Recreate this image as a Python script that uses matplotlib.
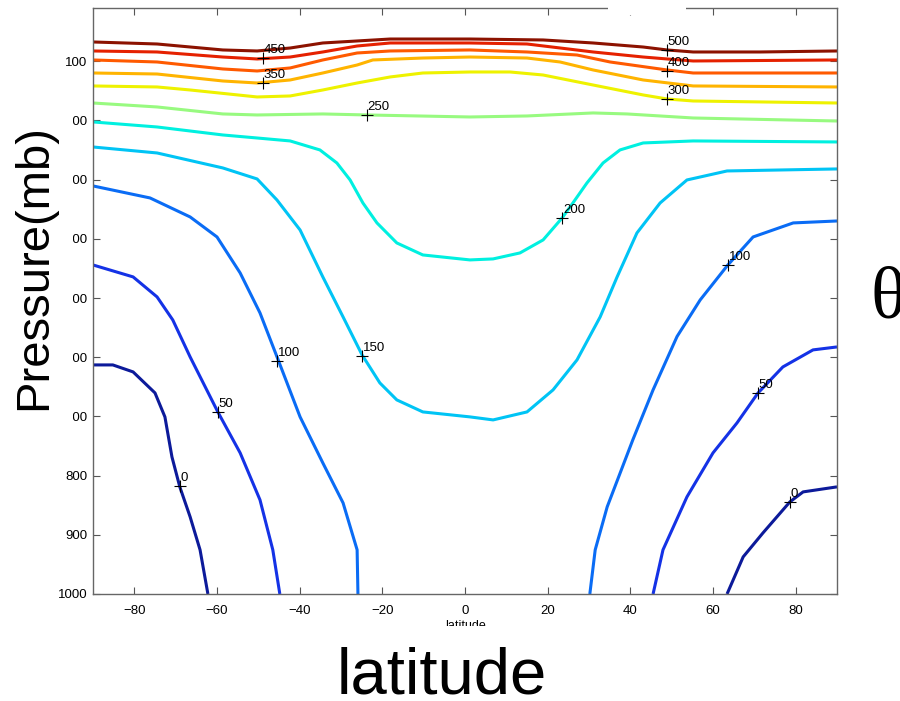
import matplotlib.pyplot as plt
from matplotlib.patches import Rectangle

plt.rcParams['font.family'] = ['Liberation Sans', 'DejaVu Sans']

# contour levels and colours (jet-like)
levels = [0, 50, 100, 150, 200, 250, 300, 350, 400, 450, 500]
colors = ['#0c1a9a', '#1432e6', '#0a6cf5', '#00c4f5', '#00f0e0', '#98fa80',
          '#eef200', '#ffb400', '#ff5a00', '#e52100', '#8c1200']

# contour paths: (latitude, pressure in mb)
lat_500 = [-90, -74.5, -58.6, -50.3, -42.3, -34.4, -26.1, -18.1, 1.2, 18.9, 31.0, 43.1, 48.9, 55.2, 71.4, 90]
p_500 = [67.4, 70.8, 80.9, 82.6, 77.6, 69.1, 65.7, 62.4, 62.4, 64, 69.1, 75.9, 80.9, 84.3, 84.3, 82.6]

lat_450 = [-90, -74.5, -58.6, -50.3, -42.3, -34.4, -26.1, -18.1, 1.2, 15.0, 31.0, 43.1, 48.9, 55.2, 90]
p_450 = [82.6, 84.3, 92.8, 96.1, 92.8, 84.3, 74.2, 69.1, 69.1, 70.8, 84.3, 92.8, 96.1, 99.5, 97.8]

lat_400 = [-90, -74.5, -58.6, -50.3, -42.3, -34.4, -26.1, -18.1, 1.2, 15.0, 27.1, 35.1, 48.9, 55.2, 90]
p_400 = [97.8, 101.2, 113, 116.4, 111.3, 97.8, 86, 82.6, 80.9, 84.3, 89.4, 101.2, 114.7, 119.8, 119.8]

lat_350 = [-90, -74.5, -58.6, -50.3, -42.3, -34.4, -26.1, -22.3, -10.2, 1.2, 15.0, 23.0, 31.0, 43.1, 55.2, 90]
p_350 = [119.8, 121.5, 133.3, 136.7, 131.6, 119.8, 106.3, 97.8, 94.5, 92.8, 94.5, 101.2, 114.7, 131.6, 141.7, 143.4]

lat_300 = [-90, -74.5, -66.5, -50.3, -42.3, -34.4, -26.1, -18.1, -10.2, 1.2, 10.9, 18.9, 31.0, 43.1, 48.9, 55.2, 90]
p_300 = [141.7, 143.4, 148.5, 160.3, 158.6, 148.5, 136.7, 126.5, 119.8, 118.1, 118.1, 123.2, 140.1, 156.9, 163.7, 167.1, 170.5]

lat_250 = [-90, -74.5, -58.6, -50.3, -34.4, -23.7, 1.2, 15.0, 31.0, 39.2, 55.2, 90]
p_250 = [170.5, 177.2, 189, 190.7, 189, 190.7, 194.1, 192.4, 187.3, 189, 195.8, 200.9]

lat_200 = [-90, -74.5, -58.6, -50.3, -42.3, -35.1, -31.0, -27.8, -24.7, -21.3, -16.5, -10.2, 1.2, 6.8,
           13.3, 18.9, 23.5, 26.1, 29.5, 33.4, 37.5, 43.1, 55.2, 90]
p_200 = [202.5, 211, 224.5, 229.6, 234.6, 249.8, 271.8, 300.5, 339.4, 373.1, 406.9, 427.2, 435.6, 433.9,
         423.8, 401.8, 364.7, 339.4, 305.6, 271.8, 249.8, 238, 234.6, 236.3]

lat_150 = [-90, -74.5, -58.6, -50.3, -45.5, -39.9, -34.4, -29.5, -24.9, -20.6, -16.5, -10.2, 1.2, 6.8,
           15.0, 21.3, 27.1, 32.7, 36.8, 41.6, 47.2, 53.7, 63.4, 90]
p_150 = [244.8, 254.9, 280.2, 298.8, 334.3, 385, 464.3, 531.9, 596.1, 643.4, 672.1, 692.4, 700.8, 705.9,
         692.4, 655.2, 604.5, 531.9, 464.3, 390, 339.4, 300.5, 285.3, 281.9]

lat_100s = [-90, -76.2, -66.5, -60.0, -54.4, -49.6, -45.2, -39.9, -34.4, -29.5, -26.1, -25.9]
p_100s = [310.6, 330.9, 363, 396.8, 457.6, 525.1, 604.5, 700.8, 778.5, 846.1, 925.4, 1000]
lat_100n = [30.2, 31.5, 34.4, 40.6, 45.5, 51.3, 56.9, 63.6, 69.7, 79.4, 90]
p_100n = [1000, 925.4, 852.8, 739.6, 655.2, 565, 503.2, 444.1, 396.8, 373.1, 369.8]

lat_50s = [-90, -80.3, -74.5, -70.7, -66.5, -59.8, -54.4, -49.6, -46.5, -44.8]
p_50s = [444.1, 464.3, 498.1, 537, 599.5, 692.4, 761.6, 841, 925.4, 1000]
lat_50n = [45.5, 47.9, 53.7, 60.0, 65.8, 70.9, 76.9, 84.2, 90]
p_50n = [1000, 925.4, 835.9, 761.6, 711, 660.3, 616.4, 587.6, 582.6]

lat_0s = [-90, -85.2, -80.3, -75.0, -72.6, -70.9, -69.0, -66.5, -64.1, -62.2]
p_0s = [613, 613, 624.8, 660.3, 700.8, 768.4, 819, 869.7, 925.4, 1000]
lat_0n = [63.4, 67.3, 72.1, 78.6, 81.8, 90]
p_0n = [1000, 937.3, 896.7, 844.4, 827.5, 819]

paths = {
    0: [(lat_0s, p_0s), (lat_0n, p_0n)],
    50: [(lat_50s, p_50s), (lat_50n, p_50n)],
    100: [(lat_100s, p_100s), (lat_100n, p_100n)],
    150: [(lat_150, p_150)],
    200: [(lat_200, p_200)],
    250: [(lat_250, p_250)],
    300: [(lat_300, p_300)],
    350: [(lat_350, p_350)],
    400: [(lat_400, p_400)],
    450: [(lat_450, p_450)],
    500: [(lat_500, p_500)],
}

# clabel positions
label_text = ['500', '450', '400', '350', '300', '250', '200', '150', '100', '100', '50', '50', '0', '0']
label_lat = [48.9, -48.9, 48.9, -48.9, 48.9, -23.7, 23.5, -24.9, -45.5, 63.6, -59.8, 70.9, -69.0, 78.6]
label_p = [80.9, 94.5, 116.4, 136.7, 163.7, 190.7, 364.7, 597.8, 606.2, 444.1, 692.4, 660.3, 817.3, 844.4]

xticks = [-80, -60, -40, -20, 0, 20, 40, 60, 80]
yticks = [100, 200, 300, 400, 500, 600, 700, 800, 900, 1000]

fig = plt.figure(figsize=(9, 7.01), dpi=100)
ax = fig.add_axes([93 / 900, 1 - 594 / 701, 744 / 900, 586 / 701])

for lev, col in zip(levels, colors):
    for lat, p in paths[lev]:
        ax.plot(lat, p, color=col, linewidth=2.2, solid_capstyle='butt', solid_joinstyle='round')

for txt, la, pr in zip(label_text, label_lat, label_p):
    ax.plot(la, pr, marker='+', color='black', markersize=8, markeredgewidth=0.8)
    ax.annotate(txt, (la, pr), xytext=(0.5, 1.5), textcoords='offset points',
                ha='left', va='bottom', fontsize=9.5)

ax.set_xlim(-90, 90)
ax.set_ylim(1000, 10)
ax.set_xticks(xticks)
ax.set_yticks(yticks)
ax.tick_params(direction='in', length=5, width=0.8, color='#555555',
               labelsize=9.5, top=True, right=True)
ax.tick_params(axis='y', pad=4)
ax.tick_params(axis='x', pad=8)
for s in ax.spines.values():
    s.set_color('#666666')
    s.set_linewidth(1.0)
ax.set_xlabel('latitude', fontsize=9, labelpad=2)

# white patches hiding bits of the original axes
fig.patches.append(Rectangle((0, 1 - 645 / 701), 1, 19 / 701, transform=fig.transFigure,
                             facecolor='white', edgecolor='none', zorder=5))
fig.patches.append(Rectangle((608 / 900, 1 - 15 / 701), 78 / 900, 15 / 701, transform=fig.transFigure,
                             facecolor='white', edgecolor='none', zorder=5))
fig.patches.append(Rectangle((0, 1 - 428 / 701), 73 / 900, 318 / 701, transform=fig.transFigure,
                             facecolor='white', edgecolor='none', zorder=5))

fig.text(34.5 / 900, 1 - 267 / 701, 'Pressure(mb)', rotation=90, fontsize=34,
         ha='center', va='center', zorder=6)
fig.text(442 / 900, 1 - 694 / 701, 'latitude', fontsize=47, ha='center', va='baseline', zorder=6)
fig.text(870 / 900, 1 - 317 / 701, 'θ', fontsize=53, ha='left', va='baseline',
         family=['Liberation Serif', 'DejaVu Serif'], zorder=6)

fig.savefig('out.png', dpi=100)
